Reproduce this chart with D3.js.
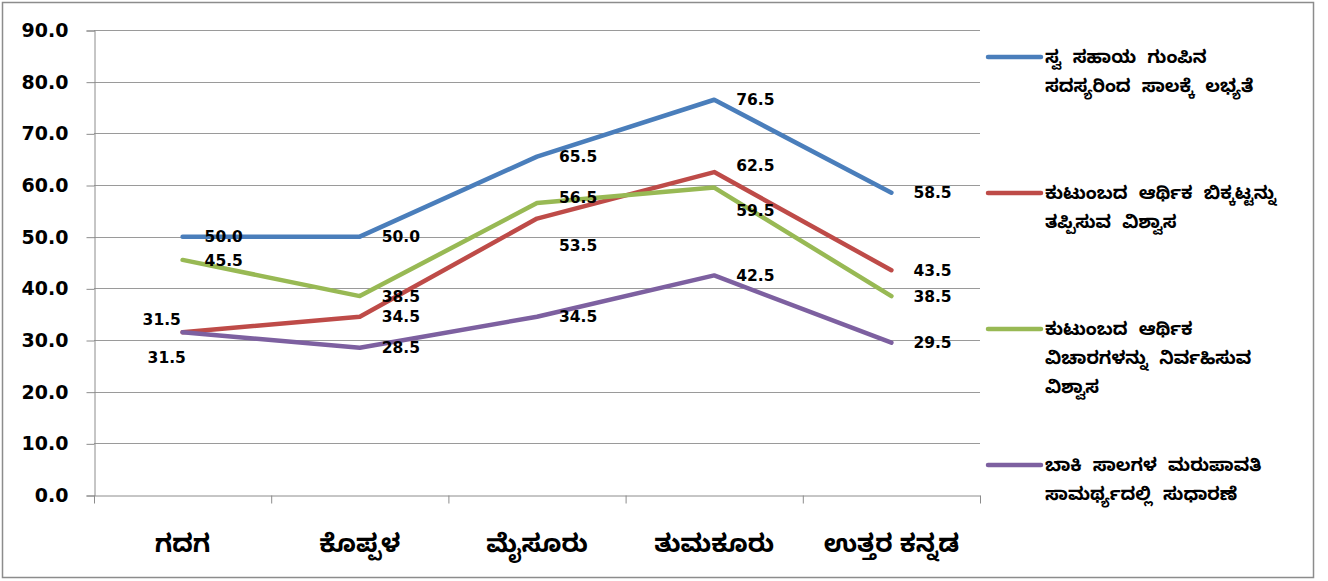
<!DOCTYPE html>
<html lang="kn">
<head>
  <meta charset="UTF-8">
  <title>Line chart</title>
  <script src="https://cdnjs.cloudflare.com/ajax/libs/d3/7.8.5/d3.min.js"></script>
  <style>
  body {
    margin: 0;
    background: #fff;
  }
  .num {
    font-family: "DejaVu Sans", Verdana, sans-serif;
    font-weight: bold;
  }
  .kn {
    font-family: "Noto Sans Kannada", Tunga, "Lohit Kannada", sans-serif;
    font-weight: bold;
  }
  </style>
</head>
<body>
<svg width="1328" height="581"></svg>
<script>
// districts
var categories = ["ಗದಗ", "ಕೊಪ್ಪಳ", "ಮೈಸೂರು", "ತುಮಕೂರು", "ಉತ್ತರ ಕನ್ನಡ"];

var loanAccess     = [50.0, 50.0, 65.5, 76.5, 58.5];
var crisisAvoid    = [31.5, 34.5, 53.5, 62.5, 43.5];
var financeManage  = [45.5, 38.5, 56.5, 59.5, 38.5];
var repayImprove   = [31.5, 28.5, 34.5, 42.5, 29.5];

var seriesNames = [
  ["ಸ್ವ ಸಹಾಯ ಗುಂಪಿನ", "ಸದಸ್ಯರಿಂದ ಸಾಲಕ್ಕೆ ಲಭ್ಯತೆ"],
  ["ಕುಟುಂಬದ ಆರ್ಥಿಕ ಬಿಕ್ಕಟ್ಟನ್ನು", "ತಪ್ಪಿಸುವ ವಿಶ್ವಾಸ"],
  ["ಕುಟುಂಬದ ಆರ್ಥಿಕ", "ವಿಚಾರಗಳನ್ನು ನಿರ್ವಹಿಸುವ", "ವಿಶ್ವಾಸ"],
  ["ಬಾಕಿ ಸಾಲಗಳ ಮರುಪಾವತಿ", "ಸಾಮರ್ಥ್ಯದಲ್ಲಿ ಸುಧಾರಣೆ"]
];

var yTicks = [0, 10, 20, 30, 40, 50, 60, 70, 80, 90];

// styling / label placement (not data)
var colors = ["#4A7EBB", "#BE4B48", "#98B954", "#7D60A0"];
// [dx from point to label start, dy of label centre]
var labelNudge = [
  [[22, 0], [22, 0], [22, 0], [22, 0], [22, 0]],
  [[-40, -13], [22, 0], [22, 27], [22, -7], [22, 0]],
  [[22, 1], [22, 0], [22, -6], [22, 23], [22, 0]],
  [[-35, 25], [22, 0], [22, 0], [22, 0], [22, 0]]
];

var series = [loanAccess, crisisAvoid, financeManage, repayImprove];

var svg = d3.select("svg");
var plotL = 94, plotR = 980, plotT = 30, plotB = 495;

// outer frame
svg.append("rect")
  .attr("x", 2.5).attr("y", 2.5)
  .attr("width", 1311).attr("height", 575)
  .attr("fill", "none")
  .attr("stroke", "#8c8c8c")
  .attr("stroke-width", 1.5);

var x = d3.scaleBand().domain(categories).range([plotL, plotR]);
var y = d3.scaleLinear().domain([0, 90]).range([plotB, plotT]);

// gridlines
svg.append("g")
  .selectAll("line")
  .data(yTicks.slice(1))
  .enter().append("line")
    .attr("x1", plotL).attr("x2", plotR)
    .attr("y1", function(d) { return Math.round(y(d)) + 0.5; })
    .attr("y2", function(d) { return Math.round(y(d)) + 0.5; })
    .attr("stroke", "#9a9a9a")
    .attr("stroke-width", 1);

// y axis
var yAxis = svg.append("g")
  .attr("transform", "translate(" + (plotL + 0.5) + ",0.5)")
  .call(d3.axisLeft(y).tickValues(yTicks).tickFormat(d3.format(".1f")).tickSize(8).tickPadding(18));
yAxis.selectAll("path, line").attr("stroke", "#8c8c8c");
yAxis.selectAll("text")
  .attr("class", "num")
  .style("font-size", "19px")
  .attr("fill", "#000");

// x axis
var xAxis = svg.append("g")
  .attr("transform", "translate(0," + (plotB + 0.5) + ")")
  .call(d3.axisBottom(x).tickSize(0).tickPadding(0));
xAxis.select("path").attr("stroke", "#8c8c8c");
xAxis.selectAll(".tick").remove();
xAxis.selectAll("line.sep")
  .data(d3.range(categories.length + 1))
  .enter().append("line")
    .attr("class", "sep")
    .attr("x1", function(i) { return plotL + i * x.step() + 0.5; })
    .attr("x2", function(i) { return plotL + i * x.step() + 0.5; })
    .attr("y1", 0).attr("y2", 8)
    .attr("stroke", "#8c8c8c");

svg.append("g")
  .selectAll("text")
  .data(categories)
  .enter().append("text")
    .attr("class", "kn")
    .attr("x", function(d) { return x(d) + x.bandwidth() / 2; })
    .attr("y", 543)
    .attr("dy", "0.35em")
    .attr("text-anchor", "middle")
    .style("font-size", "25px")
    .text(function(d) { return d; });

// lines
var line = d3.line()
  .x(function(d, i) { return x(categories[i]) + x.bandwidth() / 2; })
  .y(function(d) { return y(d); });

series.forEach(function(s, k) {
  svg.append("path")
    .datum(s)
    .attr("d", line)
    .attr("fill", "none")
    .attr("stroke", colors[k])
    .attr("stroke-width", 4.5)
    .attr("stroke-linejoin", "round")
    .attr("stroke-linecap", "round");
});

// data labels
series.forEach(function(s, k) {
  svg.append("g")
    .selectAll("text")
    .data(s)
    .enter().append("text")
      .attr("class", "num")
      .attr("x", function(d, i) { return x(categories[i]) + x.bandwidth() / 2 + labelNudge[k][i][0]; })
      .attr("y", function(d, i) { return y(d) + labelNudge[k][i][1]; })
      .attr("dy", "0.36em")
      .style("font-size", "15.5px")
      .text(function(d) { return d3.format(".1f")(d); });
});

// legend
var legend = svg.append("g").attr("transform", "translate(987,57)");
seriesNames.forEach(function(lines, k) {
  var g = legend.append("g").attr("transform", "translate(0," + (k * 136) + ")");
  g.append("line")
    .attr("x1", 1).attr("x2", 54)
    .attr("y1", 0).attr("y2", 0)
    .attr("stroke", colors[k])
    .attr("stroke-width", 4.5)
    .attr("stroke-linecap", "round");
  g.selectAll("text")
    .data(lines)
    .enter().append("text")
      .attr("class", "kn")
      .attr("x", 58)
      .attr("y", function(d, i) { return i * 29; })
      .attr("dy", "0.35em")
      .style("font-size", "18px")
      .style("word-spacing", "6px")
      .text(function(d) { return d; });
});
</script>
</body>
</html>
